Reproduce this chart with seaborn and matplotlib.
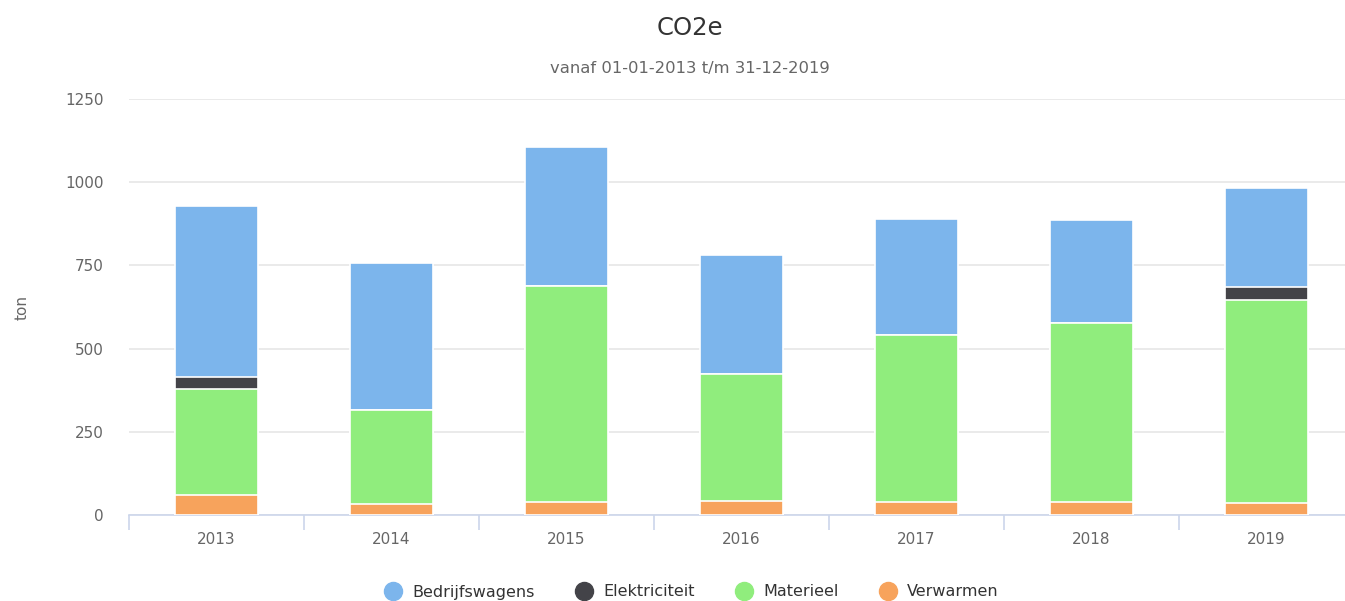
import numpy as np
import pandas as pd
import seaborn as sns
import matplotlib.pyplot as plt
from matplotlib.lines import Line2D

# ------------------------------------------------------------------------------- #
# Data (ton CO2e per year)
years = ['2013', '2014', '2015', '2016', '2017', '2018', '2019']
verwarmen = [59, 34, 40, 43, 39, 40, 35]
materieel = [321, 282, 649, 380, 501, 537, 612]
elektriciteit = [34, 0, 0, 0, 0, 0, 39]
bedrijfswagens = [515, 441, 417, 358, 350, 309, 296]

series_names = ['Bedrijfswagens', 'Elektriciteit', 'Materieel', 'Verwarmen']
colors = ['#7cb5ec', '#434348', '#90ed7d', '#f7a35c']
y_ticks = [0, 250, 500, 750, 1000, 1250]

# ------------------------------------------------------------------------------- #
# Stacked totals, drawn from the top layer down
df = pd.DataFrame({'year': years, 'Verwarmen': verwarmen, 'Materieel': materieel,
                   'Elektriciteit': elektriciteit, 'Bedrijfswagens': bedrijfswagens})
stack_order = ['Verwarmen', 'Materieel', 'Elektriciteit', 'Bedrijfswagens']
cum = df[stack_order].cumsum(axis=1)

sns.set_style('white')
plt.rcParams['font.family'] = ['DejaVu Sans']

fig = plt.figure(figsize=(13.45, 6.01), dpi=100)
ax = fig.add_axes([129 / 1345, 86 / 601, 1225 / 1345, 416 / 601])

color_map = dict(zip(series_names, colors))
for name in reversed(stack_order):
    sns.barplot(x=df['year'], y=cum[name], color=color_map[name], saturation=1,
                width=0.475, edgecolor='white', linewidth=1.2, ax=ax, zorder=3)

# ------------------------------------------------------------------------------- #
# Axes styling
ax.set_ylim(0, 1250)
ax.set_xlim(-0.5, len(years) - 0.5)
ax.set_yticks(y_ticks)
ax.yaxis.grid(True, color='#e6e6e6', linewidth=1.2)
ax.set_axisbelow(True)
for side in ['top', 'right', 'left']:
    ax.spines[side].set_visible(False)
ax.spines['bottom'].set_color('#ccd6eb')
ax.spines['bottom'].set_linewidth(1.2)

ax.tick_params(axis='y', length=0, pad=18, labelsize=11, labelcolor='#666666')
ax.tick_params(axis='x', which='major', length=0, pad=12, labelsize=11, labelcolor='#666666')
ax.set_xticks(np.arange(-0.5, len(years)), minor=True)
ax.tick_params(axis='x', which='minor', bottom=True, length=11, width=1.2, color='#ccd6eb')

ax.set_xlabel('')
ax.set_ylabel('')
fig.text(22 / 1345, 1 - 308 / 601, 'ton', rotation=90, ha='center', va='center',
         fontsize=11, color='#666666')

# Title and subtitle
fig.text(690 / 1345, 1 - 28 / 601, 'CO2e', ha='center', va='center',
         fontsize=17.5, color='#333333')
fig.text(690 / 1345, 1 - 68 / 601, 'vanaf 01-01-2013 t/m 31-12-2019', ha='center',
         va='center', fontsize=11.8, color='#666666')

# Legend
handles = [Line2D([0], [0], marker='o', linestyle='none', markersize=13,
                  markerfacecolor=c, markeredgecolor=c) for c in colors]
fig.legend(handles, series_names, loc='center', bbox_to_anchor=(691 / 1345, 1 - 592 / 601),
           ncol=4, frameon=False, fontsize=11.5, labelcolor='#333333',
           handletextpad=0.6, columnspacing=2.5, handlelength=1.2)

fig.savefig('out.png', dpi=100)
